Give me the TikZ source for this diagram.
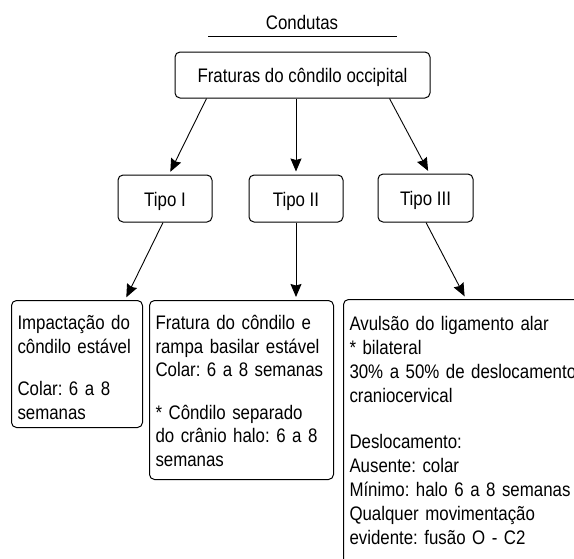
\documentclass[tikz,border=0pt]{standalone}
\usepackage{fontspec}
\setmainfont{Liberation Sans}[FakeStretch=0.86]
\usetikzlibrary{arrows.meta}
\hyphenpenalty=10000
\exhyphenpenalty=10000
\frenchspacing
\begin{document}
\begin{tikzpicture}[x=1pt, y=-1pt, font=\fontsize{19.6}{23.6}\selectfont, line join=round, >={Stealth[length=13pt,width=11pt,inset=1.5pt]},
	caixa/.style={draw, line width=1pt, rounded corners=5pt, inner sep=0pt, text height=15pt, text depth=0pt},
	quadro/.style={draw, line width=1pt, rounded corners=5pt, inner xsep=6pt, inner ysep=0pt, align=left, anchor=north west, text height=29pt},
	seta/.style={->, line width=0.9pt, shorten >=3pt}]
	\useasboundingbox (0,0) rectangle (574,558);
	\node[inner sep=0pt, text height=14pt, text depth=0pt] (titulo) at (302,22) {Condutas};
	\draw[line width=0.8pt] (208,36)--(397,36);
	\node[caixa, minimum width=255pt, minimum height=46pt] (fraturas) at (302.5,75) {Fraturas do côndilo occipital};
	\node[caixa, minimum width=94pt, minimum height=47pt] (tipoI) at (165,198.5) {Tipo I};
	\node[caixa, minimum width=94pt, minimum height=47pt] (tipoII) at (296,198.5) {Tipo II};
	\node[caixa, minimum width=95pt, minimum height=48pt] (tipoIII) at (425.5,198) {Tipo III};
	\node[quadro, text width=119pt, text depth=98pt] (impactacao) at (11,300)
		{Impactação do\\côndilo estável\\[19pt]Colar: 6 a 8\\semanas};
	\node[quadro, text width=172pt, text depth=150pt] (rampa) at (149,300)
		{Fratura do côndilo e\\rampa basilar estável\\Colar: 6 a 8 semanas\\[19pt]* Côndilo separado\\do crânio halo: 6 a 8\\semanas};
	\node[quadro, text width=240pt, text height=31pt, text depth=270pt, font=\fontsize{19.6}{24}\selectfont] (avulsao) at (343,299)
		{Avulsão do ligamento alar\\{}* bilateral\\30\% a 50\% de deslocamento\\craniocervical\\[22pt]Deslocamento:\\Ausente: colar\\Mínimo: halo 6 a 8 semanas\\Qualquer movimentação\\evidente: fusão O - C2};
	\draw[seta] ([xshift=32pt]fraturas.south west)--([xshift=4pt]tipoI.north);
	\draw[seta] (fraturas.south -| tipoII.north)--(tipoII.north);
	\draw[seta] ([xshift=-41pt]fraturas.south east)--([xshift=4pt]tipoIII.north);
	\draw[seta] ([xshift=-2pt]tipoI.south)--([xshift=48pt]impactacao.north);
	\draw[seta] (tipoII.south)--(tipoII.south |- rampa.north);
	\draw[seta] ([xshift=0.5pt]tipoIII.south)--([xshift=123pt]avulsao.north west);
\end{tikzpicture}
\end{document}
